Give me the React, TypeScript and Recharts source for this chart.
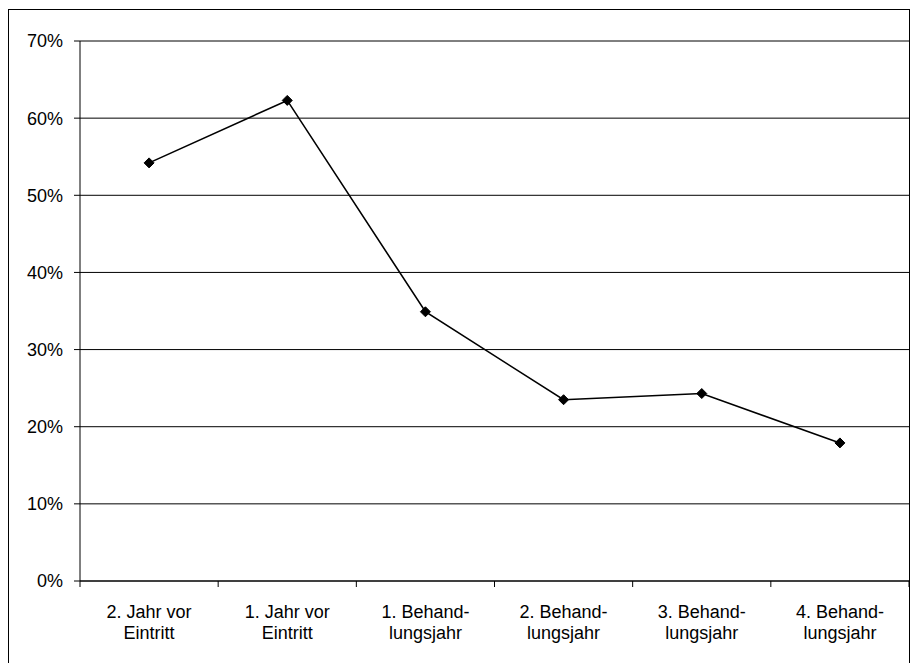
import React from "react";
import { LineChart, Line, XAxis, YAxis, CartesianGrid } from "recharts";

const categoriesLine1 = ["2. Jahr vor", "1. Jahr vor", "1. Behand-", "2. Behand-", "3. Behand-", "4. Behand-"];
const categoriesLine2 = ["Eintritt", "Eintritt", "lungsjahr", "lungsjahr", "lungsjahr", "lungsjahr"];
const values = [54.2, 62.3, 34.9, 23.5, 24.3, 17.9];
const yTicks = [0, 10, 20, 30, 40, 50, 60, 70];
const xTicks = [0, 0.5, 1, 1.5, 2, 2.5, 3, 3.5, 4, 4.5, 5, 5.5, 6];

const data = values.map((v, i) => ({ x: i + 0.5, value: v }));

const FONT = "'Liberation Sans', Arial, sans-serif";

const XTick = (props: any) => {
  const { x, y, payload } = props;
  const v = payload.value as number;
  if (Number.isInteger(v)) {
    return <line x1={x} x2={x} y1={y} y2={y + 6} stroke="#000" strokeWidth={1} />;
  }
  const idx = Math.floor(v);
  return (
    <text x={x} y={y} textAnchor="middle" fontFamily={FONT} fontSize={18} fill="#000">
      <tspan x={x} dy={36.5}>{categoriesLine1[idx]}</tspan>
      <tspan x={x} dy={21.5}>{categoriesLine2[idx]}</tspan>
    </text>
  );
};

const Diamond = (props: any) => {
  const { cx, cy } = props;
  if (cx == null || cy == null) return null;
  const r = 5;
  return (
    <polygon
      points={`${cx},${cy - r} ${cx + r},${cy} ${cx},${cy + r} ${cx - r},${cy}`}
      fill="#000"
      stroke="#000"
    />
  );
};

export default function App() {
  return (
    <div style={{ position: "absolute", left: 0, top: 0, width: 911, height: 663, overflow: "hidden", background: "#fff" }}>
      <div style={{ position: "absolute", left: 8, top: 9, width: 902, height: 700, border: "1px solid #000", boxSizing: "border-box" }} />
      <div style={{ position: "absolute", left: 0, top: 0 }}>
        <LineChart width={911} height={663} data={data} margin={{ top: 41, right: 2, bottom: 22, left: 0 }}>
          <CartesianGrid horizontal vertical={false} stroke="#000" strokeWidth={1} />
          <XAxis
            dataKey="x"
            type="number"
            domain={[0, 6]}
            ticks={xTicks}
            interval={0}
            tickLine={false}
            tickSize={0}
            tickMargin={0}
            axisLine={{ stroke: "#000" }}
            tick={<XTick />}
            height={60}
          />
          <YAxis
            domain={[0, 70]}
            ticks={yTicks}
            interval={0}
            width={80}
            tickSize={6}
            tickMargin={11}
            tickLine={{ stroke: "#000" }}
            axisLine={{ stroke: "#000" }}
            tickFormatter={(v: number) => `${v}%`}
            tick={{ fill: "#000", fontFamily: FONT, fontSize: 18 }}
          />
          <Line
            dataKey="value"
            type="linear"
            stroke="#000"
            strokeWidth={1.6}
            dot={<Diamond />}
            activeDot={false}
            isAnimationActive={false}
          />
        </LineChart>
      </div>
    </div>
  );
}
